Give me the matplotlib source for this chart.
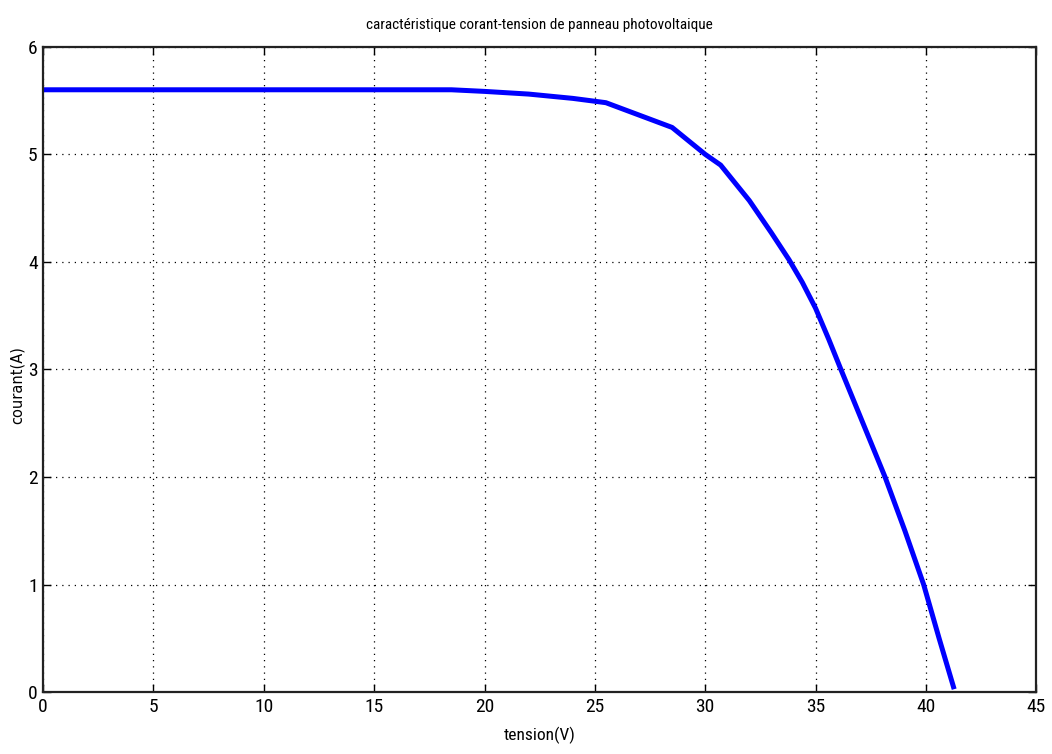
import matplotlib
matplotlib.use('Agg')
import matplotlib.pyplot as plt
from matplotlib import font_manager

# caracteristique I-V du panneau
tension = [0, 18.5, 20, 22, 24, 25.5, 28.5, 30.0, 30.7, 32.0, 33.0, 33.8,
           34.4, 35.0, 35.6, 36.15, 37.15, 38.15, 39.05, 39.9, 40.6, 41.25]
courant = [5.6, 5.6, 5.585, 5.56, 5.52, 5.48, 5.25, 5.0, 4.9, 4.57, 4.27, 4.02,
           3.81, 3.57, 3.28, 3.0, 2.5, 2.0, 1.5, 1.0, 0.5, 0.05]

xticks = [0, 5, 10, 15, 20, 25, 30, 35, 40, 45]
yticks = [0, 1, 2, 3, 4, 5, 6]

# police etroite si dispo (style matlab)
names = set(f.name for f in font_manager.fontManager.ttflist)
narrow = None
for n in ['Liberation Sans Narrow', 'DejaVu Sans Condensed', 'Roboto Condensed',
          'Open Sans Condensed']:
    if n in names:
        narrow = n
        break
cond = [f for f in font_manager.fontManager.ttflist
        if f.name == 'DejaVu Sans' and f.stretch == 'condensed']
if narrow is None:
    narrow = 'DejaVu Sans'
stretch = 'condensed' if cond else 'normal'

fig = plt.figure(figsize=(10.52, 7.54), dpi=100)
ax = fig.add_axes([0.041, 0.082, 0.944, 0.856])

ax.plot(tension, courant, color='#0000ff', linewidth=3.6, solid_joinstyle='round')

ax.set_xlim(0, 45)
ax.set_ylim(0, 6)
ax.set_xticks(xticks)
ax.set_yticks(yticks)
ax.grid(True, color='black', linestyle=(0, (1, 4)), linewidth=0.9)
ax.tick_params(direction='in', length=6, width=1, top=True, right=True,
               labelsize=14, pad=4)
for lab in ax.get_xticklabels() + ax.get_yticklabels():
    lab.set_family(narrow)
    lab.set_stretch(stretch)
for s in ax.spines.values():
    s.set_linewidth(1.6)
    s.set_color('#222222')

ax.set_title('caractéristique corant-tension de panneau photovoltaique',
             fontsize=11, family=narrow, stretch=stretch, pad=13)
ax.set_xlabel('tension(V)', fontsize=12.5, family=narrow, stretch=stretch, labelpad=8)
ax.set_ylabel('courant(A)', fontsize=10.5)
ax.yaxis.set_label_coords(-0.019, 0.476)

fig.savefig('out.png', dpi=100)
plt.close()
